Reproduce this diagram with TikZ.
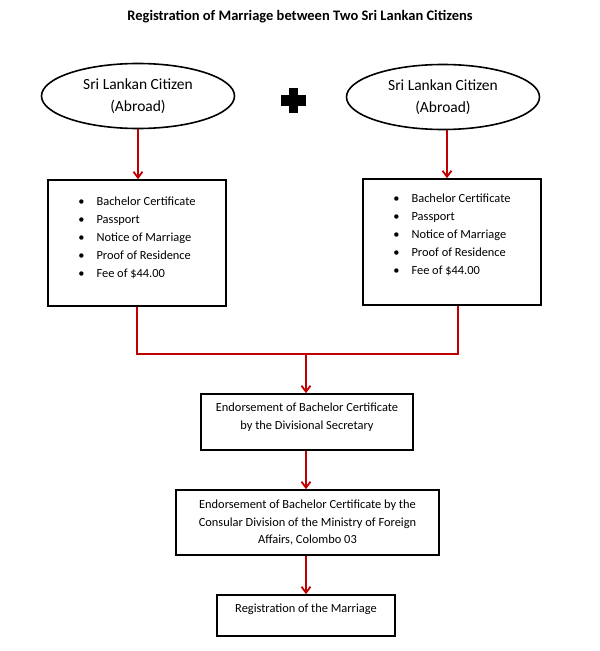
\documentclass[tikz,border=0pt]{standalone}
\usepackage{fontspec}
\setmainfont{Carlito}
\usetikzlibrary{
    positioning,
    arrows.meta,
    calc,
    shapes.geometric
}
\definecolor{FlowRed}{HTML}{C00000}
\tikzset{
    citizen/.style={
        ellipse,
        draw,
        line width=1.6pt,
        minimum width=193pt,
        minimum height=65pt,
        align=center,
        font=\fontsize{15.5}{22}\selectfont,
    },
    docs/.style={
        rectangle,
        draw,
        line width=1.6pt,
        minimum width=178pt,
        minimum height=126pt,
        inner sep=0pt,
    },
    step box/.style={
        rectangle,
        draw,
        line width=1.6pt,
        align=center,
        inner sep=0pt,
        font=\fontsize{12.4}{17.8}\selectfont,
    },
    flow/.style={
        draw=FlowRed,
        line width=1.8pt,
    },
    edge/.style={
        flow,
        -{Straight Barb[length=6pt,width=9pt,line width=1.8pt]},
    },
}
\newcommand{\doclist}{%
    \begin{minipage}[t][110pt][t]{146pt}
        \fontsize{12.4}{18}\selectfont
        \textbullet\hspace{12pt}Bachelor Certificate\\
        \textbullet\hspace{12pt}Passport\\
        \textbullet\hspace{12pt}Notice of Marriage\\
        \textbullet\hspace{12pt}Proof of Residence\\
        \textbullet\hspace{12pt}Fee of \$44.00
    \end{minipage}}

\begin{document}
\begin{tikzpicture}[x=1pt,y=-1pt]
    \useasboundingbox (0,0) rectangle (600,651);

    \node[font=\fontsize{14.5}{16}\selectfont\bfseries] (title) at (300,17) {Registration of Marriage between Two Sri Lankan Citizens};

    \node[citizen] (citL) at (138,96) {Sri Lankan Citizen\\(Abroad)};
    \node[citizen] (citR) at (443,97) {Sri Lankan Citizen\\(Abroad)};

    % plus sign between the two citizens
    \coordinate (plus) at (293.5,100.5);
    \fill ($(plus)+(-12.5,-5.5)$) rectangle ($(plus)+(12.5,5.5)$);
    \fill ($(plus)+(-4.5,-12.5)$) rectangle ($(plus)+(4.5,12.5)$);

    \node[docs] (docsL) at (137,243) {};
    \node[docs] (docsR) at (452,242) {};
    \node[anchor=north west,inner sep=0pt] at ($(docsL.north west)+(31,17)$) {\doclist};
    \node[anchor=north west,inner sep=0pt] at ($(docsR.north west)+(31,15)$) {\doclist};

    \node[step box,minimum width=212pt,minimum height=56pt] (divsec) at (307,422) {Endorsement of Bachelor Certificate\\by the Divisional Secretary\rule[-11pt]{0pt}{11pt}};
    \node[step box,minimum width=263pt,minimum height=65pt] (consular) at (307.5,522.5) {Endorsement of Bachelor Certificate by the\\Consular Division of the Ministry of Foreign\\Affairs, Colombo 03};
    \node[step box,minimum width=178pt,minimum height=41pt,text depth=14pt] (reg) at (306,615.5) {Registration of the Marriage};

    \draw[edge] (citL.south) -- (citL.south |- docsL.north);
    \coordinate (armR) at ($(citR.south)+(4,0)$);
    \draw[edge] (armR) -- (armR |- docsR.north);

    % merge of the two document boxes
    \coordinate (join) at (306,354);
    \coordinate (legR) at ($(docsR.south)+(6,0)$);
    \draw[flow] (docsL.south) |- (join);
    \draw[flow] (legR) |- (join);
    \draw[edge] (join) -- (divsec.north -| join);

    \draw[edge] (divsec.south -| join) -- (consular.north -| join);
    \draw[edge] (consular.south -| join) -- (reg.north -| join);
\end{tikzpicture}
\end{document}
